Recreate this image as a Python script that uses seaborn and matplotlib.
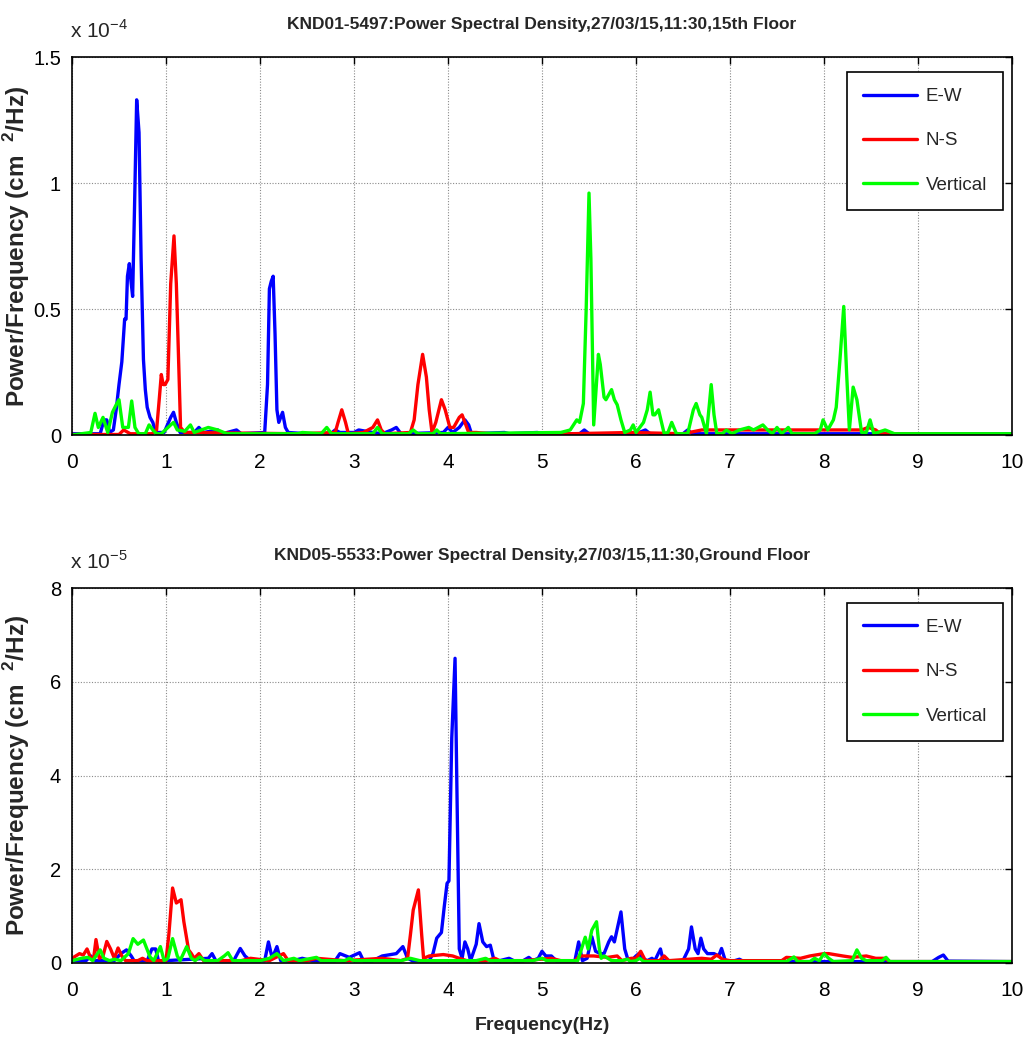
import matplotlib
matplotlib.use("Agg")
import matplotlib.pyplot as plt
import seaborn as sns
import numpy as np

# ---------------- Data (values in the axis units shown: x10^-4 top, x10^-5 bottom) -------------
# Top panel: KND01-5497, 15th Floor  (PSD x 1e-4)
top_ew_f = [0, 0.30, 0.34, 0.37, 0.40, 0.44, 0.47, 0.50, 0.53, 0.56, 0.575, 0.59, 0.61, 0.625, 0.645,
            0.665, 0.688, 0.713, 0.735, 0.76, 0.78, 0.80, 0.83, 0.86, 0.89, 0.98, 1.05, 1.08, 1.11, 1.15,
            1.30, 1.35, 1.40, 1.55, 1.60, 1.75, 1.80, 2.05, 2.08, 2.10, 2.12, 2.14, 2.16, 2.18, 2.20,
            2.24, 2.27, 2.30, 2.50, 2.75, 2.80, 2.85, 3.00, 3.05, 3.20, 3.30, 3.40, 3.45, 3.50, 3.95,
            4.00, 4.05, 4.12, 4.18, 4.22, 4.25, 4.60, 4.65, 4.95, 5.00, 5.40, 5.45, 5.50, 6.00, 6.10,
            6.15, 6.50, 6.55, 6.60, 10.0]
top_ew_v = [0.005, 0.005, 0.06, 0.06, 0.01, 0.02, 0.10, 0.20, 0.29, 0.46, 0.46, 0.63, 0.68, 0.62, 0.55,
            0.90, 1.33, 1.20, 0.70, 0.30, 0.18, 0.11, 0.07, 0.05, 0.01, 0.01, 0.07, 0.09, 0.05, 0.01,
            0.01, 0.03, 0.01, 0.02, 0.005, 0.02, 0.005, 0.01, 0.20, 0.58, 0.61, 0.63, 0.40, 0.10, 0.05,
            0.09, 0.03, 0.01, 0.005, 0.005, 0.02, 0.01, 0.01, 0.02, 0.01, 0.005, 0.02, 0.03, 0.005, 0.01,
            0.03, 0.01, 0.03, 0.06, 0.04, 0.005, 0.01, 0.005, 0.01, 0.005, 0.005, 0.02, 0.005, 0.005, 0.02,
            0.005, 0.005, 0.02, 0.005, 0.005]

top_ns_f = [0, 0.50, 0.55, 0.62, 0.85, 0.90, 0.93, 0.95, 0.97, 0.99, 1.02, 1.05, 1.085, 1.11, 1.13,
            1.155, 1.20, 2.40, 2.80, 2.83, 2.87, 2.91, 2.94, 3.10, 3.20, 3.25, 3.29, 3.33, 3.60, 3.64,
            3.68, 3.73, 3.77, 3.80, 3.83, 3.87, 3.93, 3.97, 4.02, 4.06, 4.12, 4.15, 4.19, 4.22, 4.30,
            4.45, 5.30, 5.95, 6.50, 6.70, 8.40, 8.47, 8.55, 8.60, 10.0]
top_ns_v = [0.002, 0.002, 0.02, 0.005, 0.005, 0.02, 0.15, 0.24, 0.20, 0.20, 0.22, 0.60, 0.79, 0.60, 0.35,
            0.03, 0.01, 0.005, 0.01, 0.05, 0.10, 0.05, 0.005, 0.01, 0.03, 0.06, 0.02, 0.005, 0.01, 0.06,
            0.20, 0.32, 0.23, 0.10, 0.01, 0.05, 0.14, 0.10, 0.03, 0.03, 0.07, 0.08, 0.04, 0.01, 0.01,
            0.005, 0.005, 0.01, 0.005, 0.02, 0.02, 0.03, 0.02, 0.005, 0.002]

top_v_f = [0, 0.20, 0.245, 0.28, 0.33, 0.38, 0.43, 0.47, 0.50, 0.54, 0.60, 0.635, 0.67, 0.71, 0.78,
           0.82, 0.86, 0.90, 0.95, 1.05, 1.08, 1.12, 1.20, 1.26, 1.30, 1.45, 1.55, 1.65, 2.00, 2.40,
           2.45, 2.65, 2.71, 2.76, 3.20, 3.25, 3.30, 3.58, 3.63, 3.68, 3.84, 3.88, 3.92, 5.20, 5.30,
           5.37, 5.40, 5.44, 5.47, 5.50, 5.52, 5.55, 5.60, 5.62, 5.66, 5.68, 5.74, 5.77, 5.80, 5.84,
           5.88, 5.94, 5.97, 6.00, 6.04, 6.08, 6.12, 6.15, 6.18, 6.20, 6.24, 6.30, 6.34, 6.38, 6.43,
           6.55, 6.61, 6.64, 6.68, 6.70, 6.75, 6.78, 6.80, 6.83, 6.86, 6.92, 6.96, 7.02, 7.10, 7.20,
           7.25, 7.30, 7.35, 7.40, 7.45, 7.50, 7.55, 7.62, 7.66, 7.90, 7.96, 7.99, 8.04, 8.10, 8.13,
           8.17, 8.21, 8.24, 8.27, 8.31, 8.35, 8.40, 8.45, 8.49, 8.53, 8.65, 8.75, 10.0]
top_v_v = [0.0, 0.01, 0.086, 0.03, 0.07, 0.01, 0.09, 0.12, 0.14, 0.03, 0.03, 0.135, 0.03, 0.005, 0.005,
           0.04, 0.02, 0.005, 0.005, 0.04, 0.05, 0.02, 0.015, 0.04, 0.01, 0.03, 0.02, 0.005, 0.005, 0.005,
           0.01, 0.005, 0.03, 0.005, 0.005, 0.03, 0.005, 0.005, 0.02, 0.005, 0.005, 0.02, 0.005, 0.01, 0.02,
           0.06, 0.05, 0.125, 0.50, 0.96, 0.70, 0.04, 0.32, 0.28, 0.15, 0.14, 0.18, 0.14, 0.12, 0.06,
           0.01, 0.02, 0.04, 0.01, 0.03, 0.05, 0.10, 0.17, 0.08, 0.08, 0.10, 0.005, 0.01, 0.05, 0.005,
           0.005, 0.10, 0.125, 0.08, 0.07, 0.005, 0.12, 0.20, 0.08, 0.005, 0.005, 0.02, 0.005, 0.02, 0.03,
           0.02, 0.03, 0.04, 0.02, 0.005, 0.03, 0.005, 0.03, 0.005, 0.005, 0.02, 0.06, 0.02, 0.06, 0.11,
           0.30, 0.51, 0.25, 0.02, 0.19, 0.14, 0.01, 0.01, 0.06, 0.005, 0.02, 0.005, 0.005]

# Bottom panel: KND05-5533, Ground Floor (PSD x 1e-5)
bot_ew_f = [0, 0.15, 0.20, 0.25, 0.45, 0.52, 0.58, 0.63, 0.66, 0.80, 0.85, 0.89, 0.92, 1.00, 1.45,
            1.49, 1.53, 1.72, 1.79, 1.84, 1.90, 2.05, 2.09, 2.13, 2.18, 2.22, 2.35, 2.45, 2.55, 2.80,
            2.85, 2.95, 3.06, 3.10, 3.20, 3.30, 3.45, 3.52, 3.57, 3.62, 3.80, 3.84, 3.88, 3.93, 3.96,
            3.99, 4.01, 4.04, 4.075, 4.10, 4.12, 4.15, 4.18, 4.21, 4.24, 4.30, 4.33, 4.37, 4.41, 4.45,
            4.49, 4.55, 4.65, 4.70, 4.80, 4.86, 4.90, 4.96, 5.00, 5.04, 5.10, 5.15, 5.35, 5.39, 5.43,
            5.48, 5.53, 5.57, 5.62, 5.66, 5.71, 5.74, 5.77, 5.84, 5.88, 5.91, 5.95, 6.00, 6.03, 6.07,
            6.12, 6.17, 6.20, 6.26, 6.29, 6.35, 6.50, 6.56, 6.59, 6.63, 6.66, 6.69, 6.72, 6.76, 6.83,
            6.88, 6.91, 6.95, 7.05, 7.10, 7.15, 9.15, 9.22, 9.27, 9.32, 10.0]
bot_ew_v = [0.05, 0.05, 0.15, 0.05, 0.05, 0.20, 0.28, 0.15, 0.05, 0.05, 0.30, 0.30, 0.05, 0.05, 0.10,
            0.20, 0.05, 0.05, 0.31, 0.15, 0.05, 0.05, 0.45, 0.10, 0.35, 0.05, 0.05, 0.10, 0.05, 0.05,
            0.20, 0.12, 0.22, 0.05, 0.05, 0.15, 0.20, 0.35, 0.10, 0.05, 0.05, 0.20, 0.53, 0.65, 1.20,
            1.70, 1.75, 4.80, 6.50, 3.00, 0.30, 0.10, 0.45, 0.30, 0.05, 0.40, 0.84, 0.45, 0.35, 0.38,
            0.05, 0.05, 0.10, 0.05, 0.05, 0.12, 0.05, 0.10, 0.25, 0.15, 0.15, 0.05, 0.05, 0.45, 0.05,
            0.10, 0.56, 0.25, 0.20, 0.20, 0.45, 0.56, 0.45, 1.09, 0.30, 0.10, 0.05, 0.15, 0.20, 0.10,
            0.05, 0.10, 0.05, 0.30, 0.05, 0.05, 0.05, 0.30, 0.77, 0.30, 0.20, 0.53, 0.30, 0.20, 0.20,
            0.15, 0.31, 0.05, 0.05, 0.08, 0.03, 0.03, 0.12, 0.17, 0.04, 0.03]

bot_ns_f = [0, 0.04, 0.08, 0.12, 0.16, 0.20, 0.23, 0.255, 0.29, 0.33, 0.37, 0.41, 0.45, 0.49, 0.53,
            0.57, 0.70, 0.75, 0.80, 1.00, 1.03, 1.07, 1.11, 1.16, 1.19, 1.24, 1.27, 1.30, 1.35, 1.40,
            1.80, 1.90, 2.10, 2.25, 2.30, 2.50, 2.60, 2.90, 3.30, 3.50, 3.57, 3.60, 3.63, 3.685, 3.72,
            3.74, 3.80, 3.90, 3.95, 4.05, 4.12, 4.20, 4.40, 4.50, 4.55, 4.80, 5.10, 5.20, 5.35, 5.40,
            5.55, 5.70, 5.80, 5.85, 5.95, 6.00, 6.05, 6.10, 6.25, 6.30, 6.35, 6.70, 6.80, 6.86, 6.92,
            7.00, 7.55, 7.60, 7.75, 7.85, 8.00, 8.05, 8.20, 8.30, 8.45, 8.55, 8.65, 8.70, 10.0]
bot_ns_v = [0.10, 0.15, 0.20, 0.17, 0.30, 0.10, 0.10, 0.50, 0.10, 0.15, 0.46, 0.30, 0.10, 0.32, 0.15,
            0.05, 0.05, 0.10, 0.05, 0.05, 0.60, 1.60, 1.28, 1.35, 0.88, 0.28, 0.20, 0.10, 0.20, 0.05,
            0.05, 0.10, 0.05, 0.20, 0.05, 0.05, 0.10, 0.05, 0.10, 0.05, 0.10, 0.60, 1.13, 1.56, 0.60,
            0.10, 0.15, 0.17, 0.18, 0.15, 0.10, 0.05, 0.05, 0.10, 0.05, 0.05, 0.10, 0.05, 0.05, 0.15,
            0.15, 0.12, 0.15, 0.05, 0.10, 0.10, 0.25, 0.05, 0.05, 0.15, 0.05, 0.10, 0.08, 0.17, 0.08,
            0.05, 0.05, 0.12, 0.10, 0.15, 0.20, 0.20, 0.15, 0.12, 0.15, 0.10, 0.10, 0.03, 0.03]

bot_v_f = [0, 0.10, 0.17, 0.22, 0.30, 0.34, 0.40, 0.45, 0.52, 0.60, 0.65, 0.70, 0.76, 0.83, 0.87,
           0.94, 0.98, 1.02, 1.07, 1.12, 1.15, 1.22, 1.27, 1.31, 1.36, 1.41, 1.55, 1.62, 1.66, 1.71,
           1.85, 2.00, 2.10, 2.18, 2.25, 2.36, 2.42, 2.60, 2.65, 2.90, 2.95, 3.00, 3.50, 3.60, 3.70,
           4.30, 4.40, 4.45, 4.90, 5.00, 5.05, 5.38, 5.42, 5.46, 5.49, 5.53, 5.58, 5.61, 5.63, 5.66,
           5.70, 5.74, 5.85, 5.91, 5.94, 6.00, 6.04, 6.08, 7.60, 7.68, 7.72, 7.85, 7.90, 7.95, 8.00,
           8.05, 8.10, 8.30, 8.35, 8.40, 8.45, 8.62, 8.66, 8.70, 10.0]
bot_v_v = [0.05, 0.10, 0.12, 0.05, 0.28, 0.10, 0.05, 0.08, 0.05, 0.20, 0.52, 0.40, 0.49, 0.13, 0.05,
           0.35, 0.05, 0.10, 0.52, 0.15, 0.05, 0.35, 0.10, 0.05, 0.13, 0.05, 0.05, 0.15, 0.22, 0.05,
           0.05, 0.05, 0.10, 0.20, 0.05, 0.10, 0.05, 0.12, 0.05, 0.05, 0.10, 0.05, 0.05, 0.10, 0.05,
           0.05, 0.10, 0.05, 0.05, 0.10, 0.05, 0.05, 0.30, 0.55, 0.30, 0.70, 0.88, 0.30, 0.10, 0.15,
           0.10, 0.05, 0.05, 0.08, 0.03, 0.05, 0.10, 0.03, 0.03, 0.13, 0.03, 0.03, 0.10, 0.05, 0.20,
           0.10, 0.03, 0.05, 0.28, 0.10, 0.05, 0.05, 0.12, 0.03, 0.03]

series_labels = ["E-W", "N-S", "Vertical"]
series_colors = ["#0000ff", "#ff0000", "#00ff00"]
titles = ["KND01-5497:Power Spectral Density,27/03/15,11:30,15th Floor",
          "KND05-5533:Power Spectral Density,27/03/15,11:30,Ground Floor"]
exponents = ["-4", "-5"]
top_yticks = [0, 0.5, 1, 1.5]
bot_yticks = [0, 2, 4, 6, 8]
xticks = list(range(0, 11))

# ---------------- Style ----------------
sns.set_theme(style="white")
fam = ["Liberation Sans", "DejaVu Sans"]
plt.rcParams["font.family"] = fam
plt.rcParams["mathtext.fontset"] = "custom"
plt.rcParams["mathtext.rm"] = "Liberation Sans"
plt.rcParams["mathtext.bf"] = "Liberation Sans:bold"

W, H = 1027, 1050
fig = plt.figure(figsize=(W / 100, H / 100), dpi=100)
fig.patch.set_facecolor("white")

def px_axes(left, top, right, bottom):
    return fig.add_axes([left / W, 1 - bottom / H, (right - left) / W, (bottom - top) / H])

ax_top = px_axes(72, 57, 1012, 435)
ax_bot = px_axes(72, 588, 1012, 963)

panels = [
    (ax_top, [(top_ew_f, top_ew_v), (top_ns_f, top_ns_v), (top_v_f, top_v_v)], 1.5, top_yticks),
    (ax_bot, [(bot_ew_f, bot_ew_v), (bot_ns_f, bot_ns_v), (bot_v_f, bot_v_v)], 8, bot_yticks),
]

for i, (ax, data, ymax, yt) in enumerate(panels):
    for (f, v), lab, col in zip(data, series_labels, series_colors):
        sns.lineplot(x=f, y=v, ax=ax, color=col, lw=2.4, label=lab,
                     sort=False, estimator=None)
    ax.set_xlim(0, 10)
    ax.set_ylim(0, ymax)
    ax.set_xticks(xticks)
    ax.set_yticks(yt)
    ax.set_xticklabels([str(t) for t in xticks])
    ax.set_yticklabels([("%g" % t) for t in yt])
    ax.grid(True, linestyle=(0, (1, 1.5)), color="#8a8a8a", lw=0.8)
    ax.set_axisbelow(True)
    ax.tick_params(direction="in", top=True, right=True, length=5, width=1.0,
                   labelsize=15, colors="black")
    ax.tick_params(axis="x", pad=13)
    ax.tick_params(axis="y", pad=8, labelsize=14.5)
    for sp in ax.spines.values():
        sp.set_color("black")
        sp.set_linewidth(1.2)
    ax.set_title(titles[i], fontsize=12.5, fontweight="bold", pad=20)
    ax.set_ylabel(r"Power/Frequency (cm  $^{\mathbf{2}}$/Hz)", fontsize=17.5,
                  fontweight="bold")
    ax.yaxis.set_label_coords(-40 / 940, 0.5)
    ax.set_xlabel("")
    ax.text(-0.002, 1.04, r"x 10$^{%s}$" % exponents[i], transform=ax.transAxes,
            fontsize=15, ha="left", va="bottom")
    leg = ax.legend(loc="upper right", bbox_to_anchor=(1 - 9 / 940, 1 - 15 / 377),
                    borderaxespad=0, frameon=True, fancybox=False, framealpha=1,
                    edgecolor="black", fontsize=13.5, handlelength=2.9,
                    labelspacing=1.45, borderpad=0.85, handletextpad=0.45)
    leg.get_frame().set_linewidth(1.2)

ax_bot.set_xlabel("Frequency(Hz)", fontsize=14, fontweight="bold", labelpad=12)

fig.savefig("out.png", dpi=100, facecolor="white")
